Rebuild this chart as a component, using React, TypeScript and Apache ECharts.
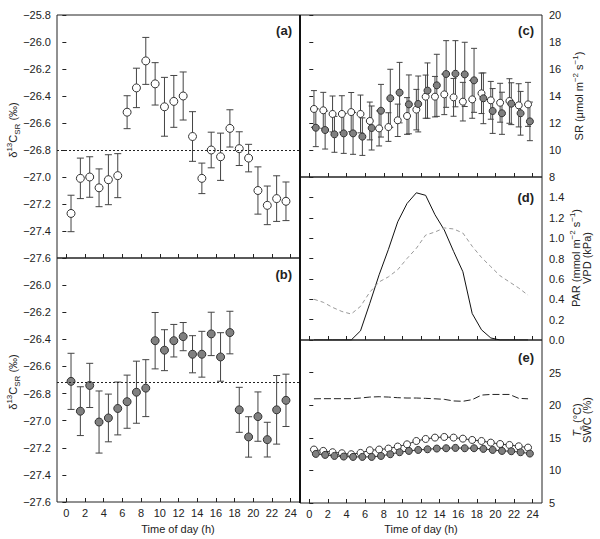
import React, { useEffect, useRef } from "react";
import * as echarts from "echarts";

// ---- data ----
const HOURS = [0.5, 1.5, 2.5, 3.5, 4.5, 5.5, 6.5, 7.5, 8.5, 9.5, 10.5, 11.5, 12.5, 13.5, 14.5, 15.5, 16.5, 17.5, 18.5, 19.5, 20.5, 21.5, 22.5, 23.5];
const HOUR_TICKS = [0, 2, 4, 6, 8, 10, 12, 14, 16, 18, 20, 22, 24];

// (a) delta13C of soil respiration, open circles
const D13C_A_MEAN = [-27.27, -27.01, -27.0, -27.08, -27.02, -26.99, -26.52, -26.34, -26.14, -26.31, -26.48, -26.44, -26.4, -26.7, -27.01, -26.8, -26.85, -26.64, -26.79, -26.86, -27.1, -27.21, -27.16, -27.18];
const D13C_A_SE = [0.135, 0.15, 0.15, 0.14, 0.185, 0.163, 0.122, 0.146, 0.174, 0.157, 0.218, 0.192, 0.178, 0.184, 0.113, 0.132, 0.175, 0.138, 0.125, 0.102, 0.175, 0.143, 0.169, 0.143];
const D13C_A_REF = -26.8;

// (b) delta13C of soil respiration, filled circles
const D13C_B_MEAN = [-26.71, -26.93, -26.74, -27.01, -26.98, -26.91, -26.86, -26.79, -26.76, -26.41, -26.48, -26.41, -26.38, -26.51, -26.51, -26.36, -26.53, -26.35, -26.92, -27.12, -26.97, -27.14, -26.92, -26.85];
const D13C_B_SE = [0.207, 0.18, 0.163, 0.229, 0.176, 0.195, 0.196, 0.229, 0.21, 0.208, 0.151, 0.12, 0.104, 0.137, 0.169, 0.16, 0.179, 0.157, 0.166, 0.149, 0.182, 0.128, 0.253, 0.193];
const D13C_B_REF = -26.72;

// (c) soil respiration
const SR_OPEN_MEAN = [13.04, 12.94, 12.67, 12.67, 12.81, 12.67, 12.15, 11.6, 11.7, 12.2, 12.52, 12.99, 13.95, 13.95, 14.12, 13.9, 13.58, 13.75, 14.2, 13.68, 13.5, 13.63, 13.31, 13.38];
const SR_OPEN_SE = [1.36, 1.33, 1.33, 1.35, 1.45, 1.4, 1.4, 1.3, 1.06, 1.2, 1.36, 1.5, 1.6, 1.5, 1.5, 1.4, 1.43, 1.4, 1.5, 1.4, 1.44, 1.65, 1.6, 1.63];
const SR_FILLED_MEAN = [11.65, 11.48, 11.16, 11.23, 11.23, 10.99, 11.63, 12.91, 13.83, 14.25, 13.38, 13.41, 14.4, 14.79, 15.63, 15.65, 15.6, 15.16, 13.83, 12.89, 12.72, 13.43, 12.72, 12.12];
const SR_FILLED_SE = [1.4, 1.41, 1.33, 1.48, 1.55, 1.39, 1.63, 1.95, 2.15, 2.24, 2.18, 2.07, 2.05, 2.3, 2.47, 2.45, 2.38, 2.37, 1.88, 1.66, 1.56, 1.55, 1.62, 1.43];

// (d) PAR and VPD
const PAR = [0, 0, 0, 0, 0, 0.09, 0.36, 0.64, 0.89, 1.16, 1.34, 1.445, 1.42, 1.23, 1.08, 0.87, 0.67, 0.26, 0.1, 0.02, 0, 0, 0, 0];
const VPD = [0.4, 0.37, 0.32, 0.28, 0.255, 0.33, 0.47, 0.57, 0.62, 0.69, 0.8, 0.9, 1.03, 1.06, 1.1, 1.09, 1.05, 0.92, 0.81, 0.72, 0.63, 0.57, 0.51, 0.44];

// (e) soil temperature and soil water content
const TS_OPEN = [13.2, 12.99, 12.79, 12.63, 12.48, 12.68, 13.09, 13.2, 13.35, 13.66, 14.0, 14.51, 14.82, 15.03, 15.13, 15.03, 14.87, 14.67, 14.51, 14.26, 14.05, 13.9, 13.7, 13.5];
const TS_FILLED = [12.53, 12.38, 12.22, 12.12, 12.07, 12.07, 12.07, 12.22, 12.48, 12.79, 12.99, 13.14, 13.24, 13.35, 13.4, 13.45, 13.4, 13.4, 13.3, 13.14, 12.99, 12.94, 12.79, 12.58];
const SWC = [20.98, 21.0, 21.0, 21.0, 21.0, 21.1, 21.25, 21.3, 21.25, 21.15, 21.1, 21.1, 21.05, 20.98, 20.9, 20.65, 20.6, 20.85, 21.55, 21.65, 21.65, 21.65, 21.05, 20.98];

// ---- styling ----
const FONT = "'Liberation Sans', Arial, Helvetica, sans-serif";
const INK = "#222";
const BAR = "#444";
const GRAY_FILL = "#808080";
const DODGE = 0.2;

const minus = (s: string) => s.replace("-", "\u2212");

function errRender(cap: number) {
  return (params: any, api: any) => {
    const x = api.value(0);
    const lo = api.coord([x, api.value(1)]);
    const hi = api.coord([x, api.value(2)]);
    const st = { stroke: BAR, lineWidth: 1, fill: "none" };
    return {
      type: "group",
      children: [
        { type: "line", shape: { x1: lo[0], y1: lo[1], x2: hi[0], y2: hi[1] }, style: st },
        { type: "line", shape: { x1: lo[0] - cap, y1: lo[1], x2: lo[0] + cap, y2: lo[1] }, style: st },
        { type: "line", shape: { x1: hi[0] - cap, y1: hi[1], x2: hi[0] + cap, y2: hi[1] }, style: st },
      ],
    };
  };
}

function errSeries(grid: number, means: number[], ses: number[], shift: number, cap: number) {
  return {
    type: "custom",
    xAxisIndex: grid,
    yAxisIndex: grid,
    renderItem: errRender(cap),
    encode: { x: 0, y: [1, 2] },
    data: HOURS.map((h, i) => [h + shift, means[i] - ses[i], means[i] + ses[i]]),
    silent: true,
    z: 2,
  };
}

function dotSeries(grid: number, means: number[], shift: number, fill: string, size: number, extra: any = {}) {
  return {
    type: "scatter",
    xAxisIndex: grid,
    yAxisIndex: grid,
    symbol: "circle",
    symbolSize: size,
    itemStyle: { color: fill, borderColor: "#333", borderWidth: 1, opacity: 1 },
    data: HOURS.map((h, i) => [h + shift, means[i]]),
    silent: true,
    z: 3,
    ...extra,
  };
}

function refLine(value: number) {
  return {
    silent: true,
    symbol: ["none", "none"],
    label: { show: false },
    lineStyle: { type: [2, 2], color: INK, width: 1 },
    data: [{ yAxis: value }],
  };
}

function xAxis(grid: number, labels: boolean) {
  return {
    type: "value",
    gridIndex: grid,
    min: -1,
    max: 25,
    axisLine: { show: false },
    splitLine: { show: false },
    axisTick: { show: true, inside: true, length: 4, customValues: HOUR_TICKS, lineStyle: { color: INK } },
    axisLabel: { show: labels, customValues: HOUR_TICKS, color: INK, fontSize: 11, fontFamily: FONT, margin: 5 },
  };
}

function yAxis(grid: number, pos: string, min: number, max: number, interval: number, digits: number, showMax: boolean) {
  return {
    type: "value",
    gridIndex: grid,
    position: pos,
    min,
    max,
    interval,
    axisLine: { show: false },
    splitLine: { show: false },
    axisTick: { show: true, inside: false, length: 4, lineStyle: { color: INK } },
    axisLabel: {
      color: INK,
      fontSize: 11,
      fontFamily: FONT,
      margin: pos === "left" ? 6 : 7,
      showMaxLabel: showMax,
      showMinLabel: true,
      formatter: (v: number) => minus(v.toFixed(digits)),
    },
  };
}

function vText(x: number, y: number, text: string, rich?: any) {
  return {
    type: "text",
    x,
    y,
    rotation: Math.PI / 2,
    silent: true,
    style: {
      text,
      fill: INK,
      fontSize: 11,
      fontFamily: FONT,
      align: "center",
      verticalAlign: "middle",
      rich,
    },
  };
}

function hText(x: number, y: number, text: string, bold = false, align = "center") {
  return {
    type: "text",
    x,
    y,
    silent: true,
    style: {
      text,
      fill: INK,
      fontSize: bold ? 13 : 11,
      fontWeight: bold ? "bold" : "normal",
      fontFamily: FONT,
      align,
      verticalAlign: "middle",
    },
  };
}

const RICH = {
  n: { fontSize: 11, fontFamily: FONT, fill: INK, color: INK, lineHeight: 16, verticalAlign: "middle" },
  i: { fontSize: 11, fontFamily: FONT, fontStyle: "italic", color: INK, lineHeight: 16, verticalAlign: "middle" },
  sup: { fontSize: 8, fontFamily: FONT, color: INK, lineHeight: 9, verticalAlign: "top" },
  sub: { fontSize: 8, fontFamily: FONT, color: INK, lineHeight: 9, verticalAlign: "bottom" },
};

function buildOption() {
  const gridBase = { show: true, borderColor: INK, borderWidth: 1, backgroundColor: "transparent", containLabel: false };
  return {
    animation: false,
    grid: [
      { ...gridBase, left: 57, top: 15, width: 243, height: 243 },
      { ...gridBase, left: 57, top: 258, width: 243, height: 244 },
      { ...gridBase, left: 300, top: 15, width: 242, height: 162 },
      { ...gridBase, left: 300, top: 177, width: 242, height: 163 },
      { ...gridBase, left: 300, top: 340, width: 242, height: 163 },
    ],
    xAxis: [xAxis(0, false), xAxis(1, true), xAxis(2, false), xAxis(3, false), xAxis(4, true)],
    yAxis: [
      yAxis(0, "left", -27.6, -25.8, 0.2, 1, true),
      yAxis(1, "left", -27.6, -25.8, 0.2, 1, false),
      yAxis(2, "right", 8, 20, 2, 0, true),
      yAxis(3, "right", 0, 1.6, 0.2, 1, false),
      yAxis(4, "right", 5, 30, 5, 0, false),
    ],
    series: [
      // (a)
      errSeries(0, D13C_A_MEAN, D13C_A_SE, 0, 3.5),
      dotSeries(0, D13C_A_MEAN, 0, "#fff", 8, { markLine: refLine(D13C_A_REF) }),
      // (b)
      errSeries(1, D13C_B_MEAN, D13C_B_SE, 0, 3.5),
      dotSeries(1, D13C_B_MEAN, 0, GRAY_FILL, 8, { markLine: refLine(D13C_B_REF) }),
      // (c)
      errSeries(2, SR_OPEN_MEAN, SR_OPEN_SE, 0, 3),
      errSeries(2, SR_FILLED_MEAN, SR_FILLED_SE, DODGE, 3),
      dotSeries(2, SR_OPEN_MEAN, 0, "#fff", 7),
      dotSeries(2, SR_FILLED_MEAN, DODGE, GRAY_FILL, 7),
      // (d)
      {
        type: "line",
        xAxisIndex: 3,
        yAxisIndex: 3,
        data: HOURS.map((h, i) => [h, PAR[i]]),
        showSymbol: false,
        symbol: "none",
        lineStyle: { color: "#111", width: 1 },
        silent: true,
      },
      {
        type: "line",
        xAxisIndex: 3,
        yAxisIndex: 3,
        data: HOURS.map((h, i) => [h, VPD[i]]),
        showSymbol: false,
        symbol: "none",
        lineStyle: { color: "#999", width: 1, type: [4, 3] },
        silent: true,
      },
      // (e)
      {
        type: "line",
        xAxisIndex: 4,
        yAxisIndex: 4,
        data: HOURS.map((h, i) => [h, SWC[i]]),
        showSymbol: false,
        symbol: "none",
        lineStyle: { color: "#222", width: 1, type: [7, 3] },
        silent: true,
      },
      {
        type: "line",
        xAxisIndex: 4,
        yAxisIndex: 4,
        data: HOURS.map((h, i) => [h, TS_OPEN[i]]),
        symbol: "circle",
        symbolSize: 7,
        showSymbol: true,
        lineStyle: { color: "#333", width: 1 },
        itemStyle: { color: "#fff", borderColor: "#333", borderWidth: 1 },
        silent: true,
      },
      {
        type: "line",
        xAxisIndex: 4,
        yAxisIndex: 4,
        data: HOURS.map((h, i) => [h + DODGE, TS_FILLED[i]]),
        symbol: "circle",
        symbolSize: 7,
        showSymbol: true,
        lineStyle: { color: "#333", width: 1 },
        itemStyle: { color: GRAY_FILL, borderColor: "#333", borderWidth: 1 },
        silent: true,
      },
    ],
    graphic: [
      {
        type: "line",
        silent: true,
        shape: { x1: 300, y1: 15, x2: 300, y2: 503 },
        style: { stroke: "#111", lineWidth: 2 },
        z: 100,
      },
      vText(13, 130, "{n|\u03b4}{sup|13}{n|C}{sub|SR}{n| (\u2030)}", RICH),
      vText(13, 382, "{n|\u03b4}{sup|13}{n|C}{sub|SR}{n| (\u2030)}", RICH),
      vText(579, 96, "{n|SR (\u03bcmol m}{sup|\u22122}{n| s}{sup|\u22121}{n|)}", RICH),
      vText(576, 258, "{n|PAR (mmol m}{sup|\u22122}{n| s}{sup|\u22121}{n|)}", RICH),
      vText(587, 258, "VPD (kPa)"),
      vText(577, 420, "{i|T}{sub|s}{n| (\u00b0C)}", RICH),
      vText(587, 420, "SWC (%)"),
      hText(292, 30, "(a)", true, "right"),
      hText(292, 274, "(b)", true, "right"),
      hText(534, 30, "(c)", true, "right"),
      hText(534, 197, "(d)", true, "right"),
      hText(534, 357, "(e)", true, "right"),
      hText(178, 529, "Time of day (h)"),
      hText(421, 529, "Time of day (h)"),
    ],
  };
}

export default function App() {
  const ref = useRef<HTMLDivElement>(null);
  useEffect(() => {
    if (!ref.current) return;
    const chart = echarts.init(ref.current, undefined, { renderer: "svg" });
    chart.setOption(buildOption() as any);
    return () => chart.dispose();
  }, []);
  return (
    <div
      ref={ref}
      style={{ position: "absolute", left: 0, top: 0, width: 600, height: 539, background: "#fff" }}
    />
  );
}
